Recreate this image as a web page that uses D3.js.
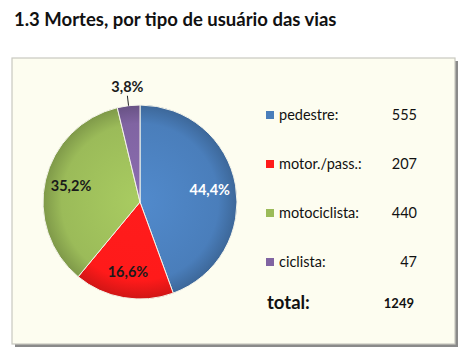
<!DOCTYPE html>
<html>
<head>
<meta charset="utf-8">
<script src="https://cdn.jsdelivr.net/npm/d3@7"></script>
<style>
  body { margin: 0; background: #fff; }
  svg { display: block; font-family: Lato, "Open Sans", sans-serif; }
</style>
</head>
<body>
<div id="chart"></div>
<script>
// chart data
const categories = ['pedestre', 'motor./pass.', 'motociclista', 'ciclista'];
const deaths = [555, 207, 440, 47];
const pctLabels = ['44,4%', '16,6%', '35,2%', '3,8%'];
const colors = ['#4a7ebb', '#ff1a1a', '#9bbb59', '#8064a2'];
const totalLabel = 'total:';
const totalValue = '1249';

const W = 469, H = 362;
const svg = d3.select('#chart').append('svg')
  .attr('width', W)
  .attr('height', H);

// title
svg.append('text')
  .attr('x', 14).attr('y', 26)
  .attr('font-size', 18.5).attr('font-weight', 'bold')
  .attr('fill', '#111')
  .text('1.3 Mortes, por tipo de usuário das vias');

const defs = svg.append('defs');

// frame with a soft shadow
svg.append('rect')
  .attr('x', 15).attr('y', 61).attr('width', 443).attr('height', 286)
  .attr('fill', '#8a8a8a');
svg.append('rect')
  .attr('x', 12).attr('y', 58).attr('width', 443).attr('height', 286)
  .attr('fill', '#fdfdf0')
  .attr('stroke', '#c9c9c0').attr('stroke-width', 1.2);

// gradients for the shaded slices
colors.forEach((c, i) => {
  const g = defs.append('radialGradient')
    .attr('id', 'grad' + i)
    .attr('gradientUnits', 'userSpaceOnUse')
    .attr('cx', 0).attr('cy', 0).attr('r', 98);
  g.append('stop').attr('offset', '0%').attr('stop-color', d3.color(c).brighter(0.25));
  g.append('stop').attr('offset', '80%').attr('stop-color', c);
  g.append('stop').attr('offset', '100%').attr('stop-color', d3.color(c).darker(0.6));
});

const cx = 140, cy = 202, r = 97;
const pie = d3.pie().sort(null).value(d => d);
const arcs = pie(deaths);
const arc = d3.arc().innerRadius(0).outerRadius(r);

const g = svg.append('g').attr('transform', `translate(${cx},${cy})`);
g.selectAll('path')
  .data(arcs)
  .enter().append('path')
  .attr('d', arc)
  .attr('fill', (d, i) => `url(#grad${i})`)
  .attr('stroke', '#f4f4ea')
  .attr('stroke-width', 1);

// percentage labels
const labelArc = d3.arc().innerRadius(r * 0.73).outerRadius(r * 0.73);
const textColors = ['#fff', '#1a1a1a', '#1a1a1a', '#1a1a1a'];
arcs.forEach((d, i) => {
  let [x, y] = labelArc.centroid(d);
  if (i === 3) {
    // outside label with leader line
    const a = (d.startAngle + d.endAngle) / 2;
    const p1 = [Math.sin(a) * r, -Math.cos(a) * r];
    const p2 = [Math.sin(a) * (r + 10), -Math.cos(a) * (r + 10)];
    g.append('line')
      .attr('x1', p1[0]).attr('y1', p1[1])
      .attr('x2', p2[0]).attr('y2', p2[1])
      .attr('stroke', '#222').attr('stroke-width', 1);
    x = p2[0]; y = p2[1] - 9;
  }
  g.append('text')
    .attr('x', x).attr('y', y)
    .attr('text-anchor', 'middle')
    .attr('dy', '0.35em')
    .attr('font-size', 14.5).attr('font-weight', 'bold')
    .attr('fill', textColors[i])
    .text(pctLabels[i]);
});

// legend
const legendY = d3.scalePoint().domain(d3.range(categories.length)).range([115, 262]);
const legend = svg.append('g');
categories.forEach((c, i) => {
  const y = legendY(i);
  legend.append('rect')
    .attr('x', 266).attr('y', y - 4).attr('width', 8).attr('height', 8)
    .attr('fill', colors[i]);
  legend.append('text')
    .attr('x', 279).attr('y', y).attr('dy', '0.35em')
    .attr('font-size', 14.5).attr('fill', '#111')
    .text(c + ':');
  legend.append('text')
    .attr('x', 417).attr('y', y).attr('dy', '0.35em')
    .attr('text-anchor', 'end')
    .attr('font-size', 14.5).attr('fill', '#111')
    .text(deaths[i]);
});

legend.append('text')
  .attr('x', 267).attr('y', 303).attr('dy', '0.35em')
  .attr('font-size', 18.5).attr('font-weight', 'bold').attr('fill', '#111')
  .text(totalLabel);
legend.append('text')
  .attr('x', 414).attr('y', 303).attr('dy', '0.35em')
  .attr('text-anchor', 'end')
  .attr('font-size', 13).attr('font-weight', 'bold').attr('fill', '#111')
  .text(totalValue);
</script>
</body>
</html>
